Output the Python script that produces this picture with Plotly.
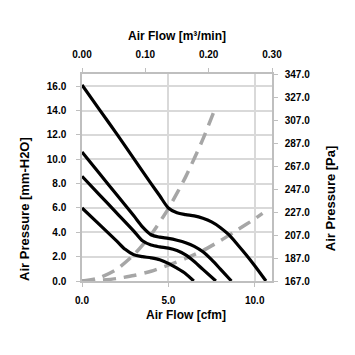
import plotly.graph_objects as go

# Fan P-Q curves (air flow in cfm, static pressure in mm-H2O)
cfm_a = [0, 1, 2, 3, 4, 4.5, 5.0, 5.5, 6.0, 6.5, 7.0, 7.5, 8.0, 8.5, 9.0, 9.5, 10.0, 10.65]
p_a = [16.1, 14.1, 12.1, 10.05, 8.0, 7.0, 6.0, 5.6, 5.45, 5.35, 5.15, 4.85, 4.4, 3.8, 3.0, 2.15, 1.25, 0.0]

cfm_b = [0, 1, 2, 3, 3.5, 4.0, 4.5, 5.0, 5.5, 6.0, 6.5, 7.0, 7.5, 8.0, 8.65]
p_b = [10.6, 8.85, 7.1, 5.35, 4.45, 3.8, 3.6, 3.5, 3.35, 3.15, 2.85, 2.4, 1.75, 1.0, 0.0]

cfm_c = [0, 1, 2, 3, 3.5, 4.0, 4.5, 5.0, 5.5, 6.0, 6.5, 7.0, 7.75]
p_c = [8.6, 7.1, 5.6, 4.1, 3.3, 2.95, 2.8, 2.7, 2.5, 2.15, 1.6, 0.95, 0.0]

cfm_d = [0, 1, 2, 2.5, 3.0, 3.5, 4.0, 4.5, 5.0, 5.5, 6.0, 6.47]
p_d = [6.0, 4.65, 3.3, 2.6, 2.15, 2.0, 1.9, 1.75, 1.45, 1.05, 0.6, 0.0]

# System impedance curves (dashed)
cfm_s1 = [0, 1, 2, 3, 4, 5, 6, 7, 7.62]
p_s1 = [0, 0.25, 0.95, 2.15, 3.8, 5.95, 8.55, 11.65, 13.85]

cfm_s2 = [0, 1, 2, 3, 4, 5, 6, 7, 8, 9, 10, 10.45]
p_s2 = [0, 0.05, 0.2, 0.45, 0.8, 1.3, 1.85, 2.5, 3.3, 4.2, 5.1, 5.55]

# Axis ranges / ticks
x_cfm_range = [0, 11]
x_m3_range = [0, 0.30]
y_mm_range = [0, 17]
y_pa_range = [167, 347]

FONT = "Liberation Sans"
GRID = "#d9d9d9"
AXL = "#bfbfbf"

fig = go.Figure()
for xs, ys in [(cfm_s1, p_s1), (cfm_s2, p_s2)]:
    fig.add_trace(go.Scatter(x=xs, y=ys, mode="lines",
                             line=dict(color="#a6a6a6", width=3.5, dash="13px,8px", shape="spline", smoothing=0.6),
                             showlegend=False, hoverinfo="skip"))
for xs, ys in [(cfm_a, p_a), (cfm_b, p_b), (cfm_c, p_c), (cfm_d, p_d)]:
    fig.add_trace(go.Scatter(x=xs, y=ys, mode="lines",
                             line=dict(color="black", width=3.2, shape="spline", smoothing=0.8),
                             showlegend=False, hoverinfo="skip"))
# invisible trace to activate secondary axes
fig.add_trace(go.Scatter(x=[0], y=[None], xaxis="x2", yaxis="y2", showlegend=False, hoverinfo="skip"))

tickfont = dict(family=FONT, size=10, color="black", weight="bold")

# page body has an 8px default margin, so the figure is sized 347 to fill the 355 window
fig.update_layout(
    width=347, height=347,
    margin=dict(l=74, r=83, t=66, b=74, autoexpand=False),
    paper_bgcolor="white", plot_bgcolor="white",
    showlegend=False,
    xaxis=dict(range=x_cfm_range, dtick=5, tick0=0, tickformat=".1f",
               showgrid=True, gridcolor=GRID, gridwidth=1.5,
               showline=True, linecolor=AXL, linewidth=1.5,
               ticks="outside", ticklen=4, tickcolor=AXL, ticklabelstandoff=5,
               tickfont=tickfont, zeroline=False, automargin=False),
    xaxis2=dict(range=x_m3_range, dtick=0.1, tick0=0, tickformat=".2f",
                overlaying="x", side="top", showgrid=False,
                showline=True, linecolor=AXL, linewidth=1.5,
                ticks="outside", ticklen=4, tickcolor=AXL, ticklabelstandoff=6,
                tickfont=tickfont, zeroline=False, automargin=False),
    yaxis=dict(range=y_mm_range, dtick=2, tick0=0, tickformat=".1f",
               showgrid=True, gridcolor=GRID, gridwidth=1.5,
               showline=True, linecolor=AXL, linewidth=1.5,
               ticks="outside", ticklen=4, tickcolor=AXL, ticklabelstandoff=8,
               tickfont=tickfont, zeroline=False, automargin=False),
    yaxis2=dict(range=y_pa_range, dtick=20, tick0=167, tickformat=".1f",
                overlaying="y", side="right", showgrid=False,
                showline=True, linecolor=AXL, linewidth=1.5,
                ticks="outside", ticklen=4, tickcolor=AXL, ticklabelstandoff=5,
                tickfont=tickfont, zeroline=False, automargin=False),
)

title_font = dict(family=FONT, size=12, color="black", weight="bold")
fig.add_annotation(text="Air Flow [m³/min]", xref="paper", yref="paper", x=0.5, y=1.184,
                   showarrow=False, xanchor="center", yanchor="middle", font=title_font)
fig.add_annotation(text="Air Flow [cfm]", xref="paper", yref="paper", x=0.547, y=-0.163,
                   showarrow=False, xanchor="center", yanchor="middle", font=title_font)
fig.add_annotation(text="Air Pressure [mm-H2O]", xref="paper", yref="paper", x=-0.30, y=0.348,
                   showarrow=False, xanchor="center", yanchor="middle", textangle=-90,
                   font=dict(family=FONT, size=13, color="black", weight="bold"))
fig.add_annotation(text="Air Pressure [Pa]", xref="paper", yref="paper", x=1.305, y=0.40,
                   showarrow=False, xanchor="center", yanchor="middle", textangle=-90,
                   font=dict(family=FONT, size=13, color="black", weight="bold"))

fig.write_html("out.html")
